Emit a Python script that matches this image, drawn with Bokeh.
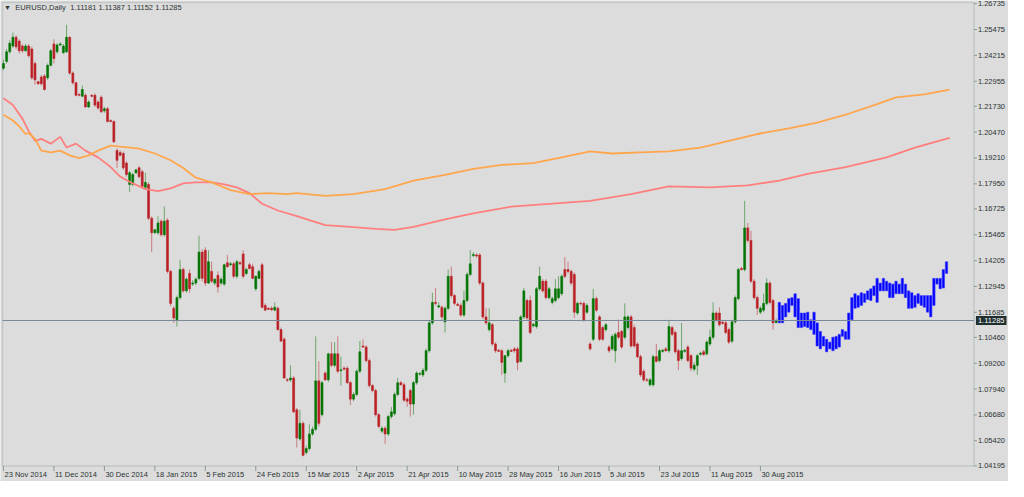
import numpy as np
from bokeh.plotting import figure
from bokeh.models import Range1d, Label, ColumnDataSource, BoxAnnotation
from bokeh.core.properties import value
from bokeh.embed import file_html
from bokeh.resources import INLINE

# ---------------- data ----------------
symbol_text = "EURUSD,Daily"
ohlc_text = "1.11181 1.11387 1.11152 1.11285"
last_price = 1.11285

open_ = [1.2359, 1.2392, 1.2439, 1.2467, 1.2510, 1.2491, 1.2467, 1.2444, 1.2467, 1.2453,
         1.2382, 1.2293, 1.2316, 1.2321, 1.2312, 1.2373, 1.2477, 1.2439, 1.2472, 1.2434,
         1.2439, 1.2510, 1.2335, 1.2288, 1.2231, 1.2222, 1.2227, 1.2170, 1.2227, 1.2227,
         1.2194, 1.2217, 1.2151, 1.2161, 1.2104, 1.2099, 1.1958, 1.1948, 1.1943, 1.1896,
         1.1792, 1.1792, 1.1849, 1.1873, 1.1854, 1.1778, 1.1792, 1.1627, 1.1556, 1.1556,
         1.1613, 1.1547, 1.1618, 1.1368, 1.1188, 1.1132, 1.1240, 1.1377, 1.1273, 1.1358,
         1.1306, 1.1311, 1.1334, 1.1462, 1.1471, 1.1311, 1.1368, 1.1311, 1.1349, 1.1311,
         1.1306, 1.1410, 1.1400, 1.1405, 1.1344, 1.1410, 1.1453, 1.1358, 1.1400, 1.1391,
         1.1283, 1.1334, 1.1400, 1.1202, 1.1188, 1.1188, 1.1179, 1.1188, 1.1084, 1.1037,
         1.0839, 1.0839, 1.0848, 1.0693, 1.0551, 1.0627, 1.0485, 1.0504, 1.0575, 1.0598,
         1.0834, 1.0669, 1.0872, 1.0839, 1.0966, 1.0910, 1.0966, 1.0884, 1.0896, 1.0896,
         1.0825, 1.0745, 1.0768, 1.0881, 1.1004, 1.0999, 1.0933, 1.0811, 1.0787, 1.0669,
         1.0589, 1.0603, 1.0575, 1.0660, 1.0674, 1.0768, 1.0825, 1.0815, 1.0745, 1.0787,
         1.0721, 1.0825, 1.0867, 1.0863, 1.0886, 1.0981, 1.1117, 1.1217, 1.1195, 1.1193,
         1.1122, 1.1188, 1.1344, 1.1250, 1.1207, 1.1202, 1.1155, 1.1226, 1.1353, 1.1445,
         1.1448, 1.1448, 1.1311, 1.1146, 1.1084, 1.1108, 1.1014, 1.0983, 1.0981, 1.0872,
         1.0957, 1.0983, 1.0990, 1.0990, 1.0929, 1.1146, 1.1226, 1.1226, 1.1103, 1.1099,
         1.1283, 1.1320, 1.1320, 1.1240, 1.1217, 1.1226, 1.1240, 1.1259, 1.1377, 1.1377,
         1.1368, 1.1353, 1.1165, 1.1212, 1.1212, 1.1169, 1.1014, 1.1037, 1.1235, 1.1146,
         1.1094, 1.1084, 1.0999, 1.0990, 1.0981, 1.1070, 1.1075, 1.1047, 1.1094, 1.1146,
         1.1094, 1.1014, 1.0952, 1.0881, 1.0839, 1.0815, 1.0815, 1.0952, 1.0933, 1.0978,
         1.0990, 1.0981, 1.1094, 1.1070, 1.0981, 1.0943, 1.0978, 1.0999, 1.0957, 1.0891,
         1.0910, 1.0964, 1.0976, 1.0966, 1.1014, 1.1047, 1.1165, 1.1165, 1.1120, 1.1117,
         1.1084, 1.1028, 1.1122, 1.1235, 1.1382, 1.1377, 1.1580, 1.1519, 1.1320, 1.1240,
         1.1169, 1.1179, 1.1212, 1.1311, 1.1226, 1.11181]

high = [1.2401, 1.2453, 1.2496, 1.2533, 1.2519, 1.2500, 1.2477, 1.2477, 1.2477, 1.2463,
        1.2392, 1.2297, 1.2326, 1.2330, 1.2382, 1.2453, 1.2500, 1.2481, 1.2486, 1.2477,
        1.2571, 1.2514, 1.2344, 1.2293, 1.2236, 1.2274, 1.2236, 1.2203, 1.2231, 1.2236,
        1.2203, 1.2227, 1.2170, 1.2170, 1.2109, 1.2104, 1.1967, 1.1958, 1.1953, 1.1906,
        1.1858, 1.1849, 1.1868, 1.1882, 1.1863, 1.1849, 1.1802, 1.1637, 1.1575, 1.1637,
        1.1622, 1.1684, 1.1627, 1.1377, 1.1198, 1.1250, 1.1424, 1.1386, 1.1339, 1.1377,
        1.1325, 1.1339, 1.1542, 1.1476, 1.1486, 1.1471, 1.1415, 1.1334, 1.1368, 1.1339,
        1.1405, 1.1448, 1.1415, 1.1415, 1.1424, 1.1419, 1.1471, 1.1386, 1.1410, 1.1405,
        1.1349, 1.1377, 1.1410, 1.1212, 1.1193, 1.1198, 1.1217, 1.1198, 1.1094, 1.1047,
        1.0848, 1.0910, 1.0858, 1.0702, 1.0693, 1.0636, 1.0518, 1.0622, 1.0612, 1.1051,
        1.0929, 1.0834, 1.0881, 1.0971, 1.1023, 1.1023, 1.1051, 1.0952, 1.0905, 1.0905,
        1.0834, 1.0778, 1.0891, 1.1028, 1.1037, 1.1009, 1.0943, 1.0820, 1.0796, 1.0678,
        1.0612, 1.0612, 1.0669, 1.0707, 1.0778, 1.0848, 1.0834, 1.0825, 1.0754, 1.0796,
        1.0834, 1.0881, 1.0877, 1.0896, 1.0990, 1.1127, 1.1264, 1.1287, 1.1217, 1.1202,
        1.1198, 1.1377, 1.1391, 1.1259, 1.1217, 1.1212, 1.1273, 1.1363, 1.1471, 1.1462,
        1.1457, 1.1457, 1.1320, 1.1188, 1.1188, 1.1117, 1.1023, 1.0990, 1.0990, 1.0957,
        1.0990, 1.0990, 1.0999, 1.0999, 1.1155, 1.1287, 1.1235, 1.1250, 1.1117, 1.1292,
        1.1391, 1.1330, 1.1330, 1.1292, 1.1245, 1.1330, 1.1344, 1.1353, 1.1438, 1.1415,
        1.1377, 1.1363, 1.1221, 1.1221, 1.1221, 1.1212, 1.1023, 1.1283, 1.1245, 1.1155,
        1.1103, 1.1117, 1.1009, 1.1061, 1.1070, 1.1132, 1.1084, 1.1212, 1.1155, 1.1155,
        1.1108, 1.1023, 1.0962, 1.0891, 1.0848, 1.0848, 1.0962, 1.1014, 1.0990, 1.0990,
        1.0999, 1.1132, 1.1103, 1.1080, 1.0990, 1.1117, 1.0990, 1.1009, 1.0966, 1.0924,
        1.0966, 1.0976, 1.0985, 1.1032, 1.1084, 1.1217, 1.1174, 1.1193, 1.1127, 1.1127,
        1.1094, 1.1132, 1.1250, 1.1386, 1.1391, 1.1712, 1.1604, 1.1566, 1.1330, 1.1250,
        1.1198, 1.1259, 1.1334, 1.1320, 1.1235, 1.11387]

low = [1.2349, 1.2382, 1.2430, 1.2458, 1.2453, 1.2430, 1.2434, 1.2439, 1.2411, 1.2302,
       1.2279, 1.2279, 1.2274, 1.2250, 1.2302, 1.2368, 1.2382, 1.2430, 1.2467, 1.2430,
       1.2434, 1.2326, 1.2279, 1.2222, 1.2222, 1.2217, 1.2165, 1.2165, 1.2217, 1.2170,
       1.2156, 1.2142, 1.2142, 1.2094, 1.2094, 1.1995, 1.1873, 1.1929, 1.1863, 1.1830,
       1.1755, 1.1783, 1.1844, 1.1821, 1.1773, 1.1769, 1.1618, 1.1462, 1.1552, 1.1547,
       1.1537, 1.1537, 1.1358, 1.1198, 1.1117, 1.1099, 1.1231, 1.1264, 1.1264, 1.1264,
       1.1297, 1.1301, 1.1325, 1.1320, 1.1297, 1.1306, 1.1311, 1.1301, 1.1264, 1.1301,
       1.1297, 1.1386, 1.1396, 1.1334, 1.1334, 1.1400, 1.1334, 1.1349, 1.1377, 1.1330,
       1.1273, 1.1330, 1.1188, 1.1174, 1.1179, 1.1174, 1.1174, 1.1080, 1.1023, 1.0844,
       1.0829, 1.0829, 1.0678, 1.0509, 1.0542, 1.0466, 1.0475, 1.0494, 1.0565, 1.0589,
       1.0612, 1.0660, 1.0834, 1.0829, 1.0900, 1.0900, 1.0872, 1.0811, 1.0886, 1.0820,
       1.0716, 1.0735, 1.0759, 1.0872, 1.0995, 1.0924, 1.0801, 1.0778, 1.0660, 1.0603,
       1.0579, 1.0527, 1.0565, 1.0650, 1.0664, 1.0759, 1.0811, 1.0730, 1.0707, 1.0660,
       1.0669, 1.0815, 1.0858, 1.0853, 1.0877, 1.0971, 1.1108, 1.1202, 1.1188, 1.1132,
       1.1070, 1.1179, 1.1240, 1.1202, 1.1198, 1.1146, 1.1146, 1.1217, 1.1344, 1.1438,
       1.1434, 1.1301, 1.1136, 1.1108, 1.1075, 1.1004, 1.0971, 1.0976, 1.0863, 1.0825,
       1.0947, 1.0976, 1.0971, 1.0886, 1.0924, 1.1136, 1.1132, 1.1061, 1.1094, 1.1089,
       1.1273, 1.1264, 1.1231, 1.1231, 1.1207, 1.1217, 1.1231, 1.1250, 1.1334, 1.1358,
       1.1301, 1.1141, 1.1155, 1.1202, 1.1122, 1.1160, 1.0981, 1.1028, 1.1169, 1.1028,
       1.1028, 1.1075, 1.0971, 1.0981, 1.0924, 1.1037, 1.0990, 1.1037, 1.1084, 1.0995,
       1.0995, 1.0943, 1.0853, 1.0829, 1.0829, 1.0806, 1.0806, 1.0924, 1.0924, 1.0971,
       1.0976, 1.0971, 1.1051, 1.0966, 1.0886, 1.0933, 1.0971, 1.0924, 1.0881, 1.0881,
       1.0863, 1.0957, 1.0957, 1.0957, 1.1004, 1.1037, 1.1122, 1.1099, 1.1108, 1.1061,
       1.1014, 1.1018, 1.1113, 1.1226, 1.1372, 1.1368, 1.1509, 1.1311, 1.1231, 1.1155,
       1.1160, 1.1169, 1.1202, 1.1207, 1.1084, 1.11152]

close = [1.2382, 1.2439, 1.2481, 1.2510, 1.2463, 1.2444, 1.2444, 1.2467, 1.2420, 1.2312,
         1.2302, 1.2283, 1.2283, 1.2255, 1.2373, 1.2444, 1.2406, 1.2472, 1.2477, 1.2467,
         1.2510, 1.2335, 1.2288, 1.2227, 1.2227, 1.2255, 1.2170, 1.2194, 1.2222, 1.2179,
         1.2165, 1.2146, 1.2161, 1.2099, 1.2099, 1.2000, 1.1910, 1.1934, 1.1873, 1.1840,
         1.1849, 1.1840, 1.1863, 1.1830, 1.1783, 1.1802, 1.1627, 1.1556, 1.1571, 1.1604,
         1.1547, 1.1613, 1.1368, 1.1212, 1.1141, 1.1240, 1.1377, 1.1273, 1.1330, 1.1283,
         1.1311, 1.1330, 1.1462, 1.1334, 1.1311, 1.1415, 1.1320, 1.1330, 1.1292, 1.1330,
         1.1400, 1.1391, 1.1405, 1.1344, 1.1415, 1.1405, 1.1344, 1.1377, 1.1382, 1.1334,
         1.1344, 1.1368, 1.1193, 1.1179, 1.1183, 1.1181, 1.1193, 1.1084, 1.1028, 1.0848,
         1.0837, 1.0848, 1.0683, 1.0556, 1.0627, 1.0471, 1.0504, 1.0575, 1.0598, 1.0834,
         1.0627, 1.0825, 1.0839, 1.0966, 1.0910, 1.0966, 1.0881, 1.0888, 1.0891, 1.0825,
         1.0745, 1.0768, 1.0881, 1.0976, 1.0999, 1.0933, 1.0811, 1.0787, 1.0669, 1.0612,
         1.0603, 1.0575, 1.0660, 1.0683, 1.0768, 1.0825, 1.0815, 1.0740, 1.0735, 1.0721,
         1.0825, 1.0872, 1.0870, 1.0886, 1.0981, 1.1117, 1.1217, 1.1212, 1.1200, 1.1146,
         1.1188, 1.1344, 1.1250, 1.1212, 1.1202, 1.1155, 1.1226, 1.1353, 1.1405, 1.1450,
         1.1443, 1.1311, 1.1146, 1.1117, 1.1117, 1.1014, 1.0981, 1.0978, 1.0924, 1.0957,
         1.0981, 1.0978, 1.0981, 1.0924, 1.1146, 1.1273, 1.1141, 1.1070, 1.1110, 1.1283,
         1.1344, 1.1273, 1.1240, 1.1283, 1.1235, 1.1283, 1.1283, 1.1344, 1.1344, 1.1368,
         1.1311, 1.1169, 1.1212, 1.1210, 1.1132, 1.1202, 1.0990, 1.1235, 1.1179, 1.1037,
         1.1037, 1.1108, 1.0981, 1.1051, 1.1061, 1.1047, 1.0999, 1.1146, 1.1146, 1.1004,
         1.1004, 1.0952, 1.0863, 1.0839, 1.0837, 1.0839, 1.0952, 1.0929, 1.0981, 1.0983,
         1.0981, 1.1099, 1.1061, 1.0976, 1.0933, 1.0981, 1.0983, 1.0933, 1.0896, 1.0910,
         1.0957, 1.0969, 1.0962, 1.1023, 1.1047, 1.1165, 1.1132, 1.1108, 1.1115, 1.1070,
         1.1023, 1.1122, 1.1240, 1.1377, 1.1377, 1.1580, 1.1519, 1.1320, 1.1240, 1.1188,
         1.1188, 1.1212, 1.1311, 1.1217, 1.1117, 1.11285]

# forecast bars (blue), following the last candle
fc_high = [1.1217, 1.1202, 1.1212, 1.1235, 1.1240, 1.1259, 1.1235, 1.1165, 1.1165, 1.1169,
           1.1132, 1.1169, 1.1117, 1.1075, 1.1051, 1.1037, 1.1023, 1.1047, 1.1051, 1.1061,
           1.1084, 1.1075, 1.1165, 1.1240, 1.1259, 1.1250, 1.1264, 1.1259, 1.1273, 1.1283,
           1.1297, 1.1334, 1.1311, 1.1334, 1.1320, 1.1311, 1.1306, 1.1320, 1.1306, 1.1334,
           1.1306, 1.1273, 1.1264, 1.1250, 1.1259, 1.1250, 1.1250, 1.1250, 1.1250, 1.1334,
           1.1334, 1.1334, 1.1377, 1.1415]
fc_low = [1.1117, 1.1117, 1.1146, 1.1169, 1.1202, 1.1146, 1.1094, 1.1094, 1.1099, 1.1094,
          1.1084, 1.1061, 1.1004, 1.0990, 1.1004, 1.0976, 1.0990, 1.0981, 1.0990, 1.0999,
          1.1051, 1.1037, 1.1037, 1.1132, 1.1188, 1.1193, 1.1202, 1.1217, 1.1231, 1.1226,
          1.1250, 1.1217, 1.1273, 1.1273, 1.1273, 1.1240, 1.1240, 1.1259, 1.1259, 1.1259,
          1.1240, 1.1188, 1.1188, 1.1193, 1.1212, 1.1202, 1.1193, 1.1169, 1.1146, 1.1202,
          1.1306, 1.1283, 1.1287, 1.1358]

# moving averages: (bar number, value)
ma_salmon_bar = [0, 3, 6, 8, 10, 12, 15, 18, 20, 23, 26, 30, 34, 37, 41, 45, 49, 53, 57, 61,
                 66, 70, 74, 78, 82, 87, 93, 98, 102, 110, 118, 124, 130, 140, 149, 161, 174,
                 186, 199, 211, 224, 236, 246, 255, 267, 280, 289, 300]
ma_salmon = [1.2212, 1.2179, 1.2113, 1.2052, 1.2005, 1.2014, 1.1991, 1.2024, 1.1972, 1.1991,
             1.1957, 1.1924, 1.1877, 1.1830, 1.1797, 1.1769, 1.1759, 1.1773, 1.1797, 1.1802,
             1.1802, 1.1792, 1.1778, 1.1750, 1.1698, 1.1665, 1.1637, 1.1613, 1.1594, 1.1585,
             1.1575, 1.1570, 1.1585, 1.1622, 1.1651, 1.1684, 1.1698, 1.1712, 1.1745, 1.1783,
             1.1778, 1.1787, 1.1811, 1.1844, 1.1877, 1.1924, 1.1972, 1.2019]
ma_orange_bar = [0, 3, 5, 7, 8, 10, 12, 15, 18, 21, 24, 27, 30, 34, 37, 43, 48, 53, 57, 61,
                 66, 72, 78, 84, 90, 93, 102, 111, 121, 130, 140, 149, 158, 168, 177, 186,
                 193, 202, 211, 221, 230, 239, 249, 258, 267, 277, 283, 292, 300]
ma_orange = [1.2132, 1.2104, 1.2075, 1.2038, 1.2043, 1.2014, 1.1957, 1.1948, 1.1957, 1.1934,
             1.1920, 1.1934, 1.1957, 1.1981, 1.1976, 1.1967, 1.1943, 1.1910, 1.1872, 1.1825,
             1.1802, 1.1764, 1.1745, 1.1750, 1.1745, 1.1750, 1.1736, 1.1745, 1.1769, 1.1811,
             1.1839, 1.1868, 1.1887, 1.1896, 1.1924, 1.1953, 1.1943, 1.1948, 1.1953, 1.1972,
             1.2005, 1.2038, 1.2066, 1.2094, 1.2132, 1.2184, 1.2217, 1.2231, 1.2255]

date_labels = ["23 Nov 2014", "11 Dec 2014", "30 Dec 2014", "18 Jan 2015", "5 Feb 2015",
               "24 Feb 2015", "15 Mar 2015", "2 Apr 2015", "21 Apr 2015", "10 May 2015",
               "28 May 2015", "16 Jun 2015", "5 Jul 2015", "23 Jul 2015", "11 Aug 2015",
               "30 Aug 2015"]
bars_per_label = 16

price_ticks = [1.26735, 1.25475, 1.24215, 1.22955, 1.21730, 1.20470, 1.19210, 1.17950,
               1.16725, 1.15465, 1.14205, 1.12945, 1.11685, 1.10460, 1.09200, 1.07940,
               1.06680, 1.05420, 1.04195]

# ---------------- layout (chart window in bar / price units) ----------------
win_left, win_right = -0.31, 307.7          # chart frame
win_top, win_bottom = 1.26796, 1.04188
canvas_x = (-0.94, 318.66)                  # whole canvas incl. price scale
canvas_y = (1.03433, 1.26891)               # whole canvas incl. time scale
date_label_y = 1.03763
header_y = 1.2656

# ---------------- styling ----------------
BG = "#DCDCDC"
FRAME = "#8A9898"
TXT = "#2A3333"
UP = "#007400"
DN = "#BA2025"
FONT = "Liberation Sans"
FS = "7.5px"

o = np.array(open_); h = np.array(high); l = np.array(low); c = np.array(close)
idx = np.arange(len(c))
up = c >= o
colors = np.where(up, UP, DN)
src = ColumnDataSource(dict(x=idx, o=o, h=h, l=l, c=c,
                            top=np.maximum(o, c), bottom=np.minimum(o, c), color=colors))
fc_x = np.arange(len(c), len(c) + len(fc_high))

p = figure(width=1008, height=481,
           x_range=Range1d(*canvas_x), y_range=Range1d(*canvas_y),
           output_backend="svg", toolbar_location=None,
           x_axis_location=None, y_axis_location=None,
           min_border_left=0, min_border_top=0, min_border_right=0, min_border_bottom=0,
           background_fill_color=BG, border_fill_color=BG)
p.grid.visible = False
p.outline_line_color = None

# chart window frame
p.add_layout(BoxAnnotation(left=win_left, right=win_right, top=win_top, bottom=win_bottom,
                           fill_color=None, line_color=FRAME, line_width=1.5, level="underlay"))

# candles
p.segment(x0="x", y0="l", x1="x", y1="h", color="color", line_width=1, line_alpha=0.5, source=src)
p.vbar(x="x", width=0.62, top="top", bottom="bottom", fill_color="color",
       line_color="color", line_width=0.6, source=src)

# forecast bars
p.vbar(x=fc_x, width=0.75, top=fc_high, bottom=fc_low, fill_color="#0000FF",
       line_color="#4040FF", line_width=0.6)

# moving averages
p.line(ma_salmon_bar, ma_salmon, line_color="#FF7F7F", line_width=1.8)
p.line(ma_orange_bar, ma_orange, line_color="#FFA64D", line_width=1.8)

# bid line (inside the chart window)
p.segment(x0=[win_left], y0=[last_price], x1=[win_right], y1=[last_price],
          line_color="#778899", line_width=1)

# price scale (right)
p.ray(x=[win_right] * len(price_ticks), y=price_ticks, length=3, length_units="screen",
      angle=0, line_color=FRAME, line_width=1)
p.text(x=[win_right] * len(price_ticks), y=price_ticks,
       text=[f"{t:.5f}" for t in price_ticks], x_offset=4,
       text_align="left", text_baseline="middle", text_font=value(FONT),
       text_font_size=value(FS), text_color=TXT)

# time scale (bottom)
date_ticks = [bars_per_label * k for k in range(len(date_labels))]
p.ray(x=date_ticks, y=[win_bottom] * len(date_ticks), length=5, length_units="screen",
      angle=-np.pi / 2, line_color=FRAME, line_width=1)
p.text(x=date_ticks, y=[date_label_y] * len(date_ticks), text=date_labels, x_offset=1,
       text_align="left", text_baseline="middle", text_font=value(FONT),
       text_font_size=value(FS), text_color=TXT)

# header text
p.add_layout(Label(x=1.3, y=header_y, text="▼", text_align="center", text_baseline="middle",
                   text_font_size="7px", text_color=TXT))
p.add_layout(Label(x=3.75, y=header_y, text=symbol_text, text_align="left", text_baseline="middle",
                   text_font=FONT, text_font_size=FS, text_color=TXT))
p.add_layout(Label(x=21.2, y=header_y, text=ohlc_text, text_align="left", text_baseline="middle",
                   text_font=FONT, text_font_size=FS, text_color=TXT))

# price box on the scale
p.add_layout(Label(x=win_right, y=last_price, x_offset=2, text=f"{last_price:.5f}",
                   text_align="left", text_baseline="middle", text_font=FONT,
                   text_font_size=FS, text_color="#FFFFFF",
                   background_fill_color="#1F2F2F", padding=2))

open("out.html", "w").write(file_html(p, INLINE))
